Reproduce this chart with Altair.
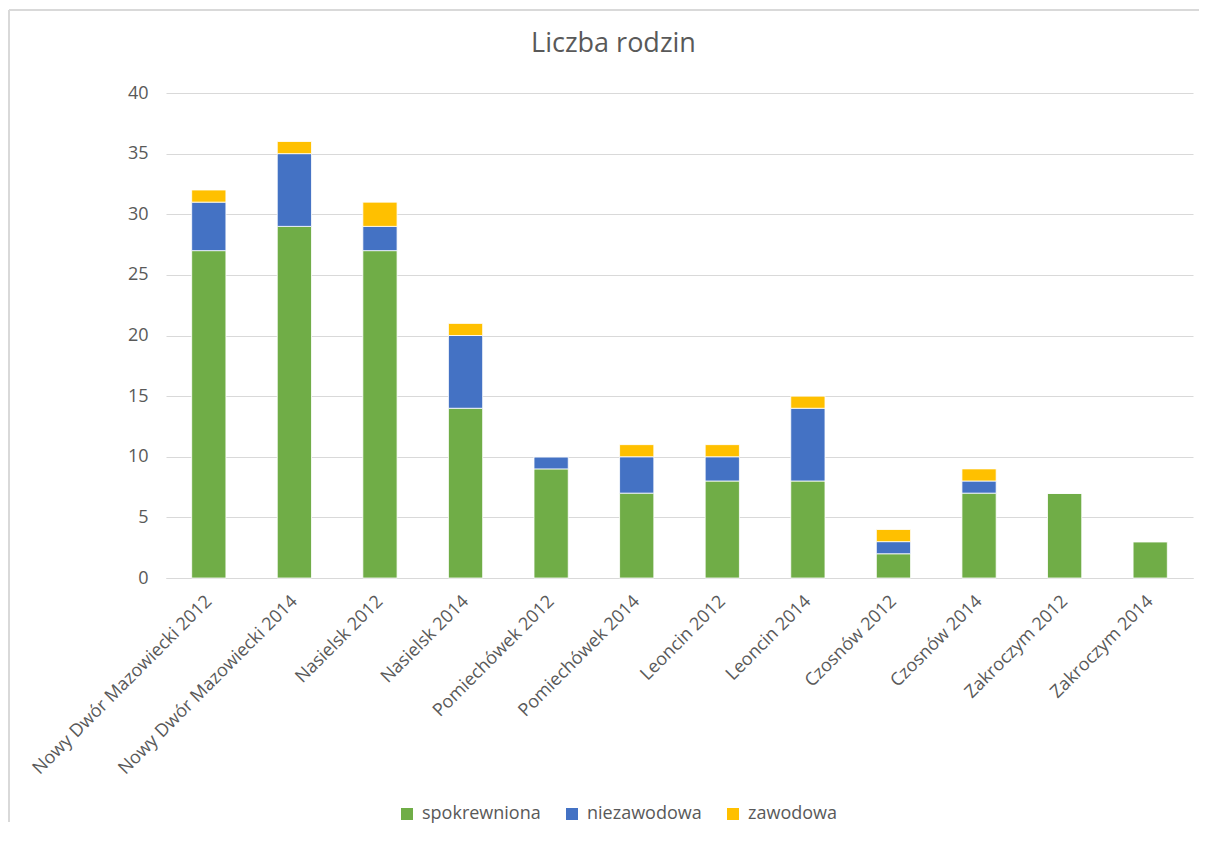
import altair as alt
import pandas as pd

categories = [
    "Nowy Dwór Mazowiecki 2012", "Nowy Dwór Mazowiecki 2014",
    "Nasielsk 2012", "Nasielsk 2014",
    "Pomiechówek 2012", "Pomiechówek 2014",
    "Leoncin 2012", "Leoncin 2014",
    "Czosnów 2012", "Czosnów 2014",
    "Zakroczym 2012", "Zakroczym 2014",
]
series = ["spokrewniona", "niezawodowa", "zawodowa"]
spokrewniona = [27, 29, 27, 14, 9, 7, 8, 8, 2, 7, 7, 3]
niezawodowa = [4, 6, 2, 6, 1, 3, 2, 6, 1, 1, 0, 0]
zawodowa = [1, 1, 2, 1, 0, 1, 1, 1, 1, 1, 0, 0]
colors = ["#70AD47", "#4472C4", "#FFC000"]
y_ticks = [0, 5, 10, 15, 20, 25, 30, 35, 40]

rows = []
for i, c in enumerate(categories):
    for k, (s, vals) in enumerate(zip(series, [spokrewniona, niezawodowa, zawodowa])):
        rows.append({"cat": c, "series": s, "value": vals[i], "ord": k})
df = pd.DataFrame(rows)

FONT = "Open Sans"
GRAY = "#595959"

bars = alt.Chart(df).mark_bar(stroke="white", strokeWidth=0.8).encode(
    x=alt.X("cat:N", sort=categories, title=None,
            scale=alt.Scale(paddingInner=0.6, paddingOuter=0.3),
            axis=alt.Axis(labelAngle=-45, labelFontSize=18, labelColor=GRAY,
                          labelFont=FONT, ticks=False, domainColor="#D9D9D9",
                          labelPadding=14, labelOffset=-6, labelLimit=400)),
    y=alt.Y("value:Q", stack="zero", title=None,
            scale=alt.Scale(domain=[0, 40]),
            axis=alt.Axis(values=y_ticks, labelFontSize=18, labelColor=GRAY,
                          labelFont=FONT, ticks=False, domain=False,
                          gridColor="#D9D9D9", labelPadding=18)),
    color=alt.Color("series:N", title=None,
                    scale=alt.Scale(domain=series, range=colors),
                    legend=alt.Legend(orient="none", legendX=232, legendY=712,
                                      direction="horizontal", symbolType="square",
                                      symbolSize=144, symbolStrokeWidth=0,
                                      labelFontSize=18, labelColor=GRAY,
                                      labelFont=FONT, columnPadding=22,
                                      labelOffset=6)),
    order=alt.Order("ord:Q"),
)

one = pd.DataFrame({"a": [0]})
border_v = alt.Chart(one).mark_rule(color="#D9D9D9", strokeWidth=2).encode(
    x=alt.value(-157), y=alt.value(-83), y2=alt.value(729))
border_h = alt.Chart(one).mark_rule(color="#D9D9D9", strokeWidth=2).encode(
    x=alt.value(-157), x2=alt.value(1033), y=alt.value(-83))

chart = alt.layer(border_v, border_h, bars).properties(
    width=1027, height=485,
    title=alt.TitleParams("Liczba rodzin", fontSize=27, font=FONT, color=GRAY,
                          fontWeight="normal", anchor="middle", frame="group",
                          dx=-66, offset=-76, baseline="bottom"),
    autosize=alt.AutoSizeParams(type="none"),
    padding={"left": 158, "top": 85, "right": 7, "bottom": 245},
    background="white",
).configure_view(strokeWidth=0, stroke="transparent")

chart.save("out.html", embed_options={"renderer": "svg", "actions": False})
